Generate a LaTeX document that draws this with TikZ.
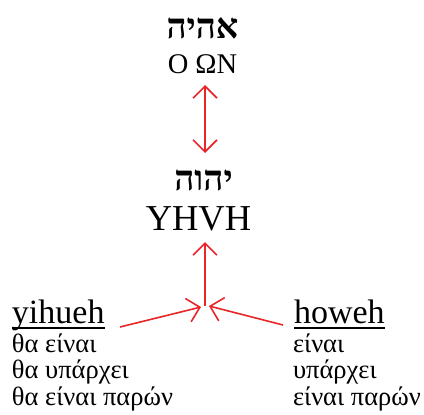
\documentclass[tikz,border=0pt]{standalone}
\usepackage{fontspec}
\setmainfont{Liberation Serif}
\newfontfamily\hebfont[Script=Hebrew]{Liberation Serif}
\TeXXeTstate=1
\usetikzlibrary{arrows.meta}
\definecolor{arrowred}{RGB}{232,38,42}
\tikzset{
  lbl/.style={inner sep=0pt, outer sep=0pt, text=black},
  heb/.style={lbl, anchor=base, font=\hebfont\bfseries\fontsize{35}{35}\selectfont},
  big/.style={lbl, anchor=base, font=\fontsize{36.5}{36.5}\selectfont},
  mid/.style={lbl, anchor=base, font=\fontsize{28.5}{28.5}\selectfont},
  head/.style={lbl, anchor=base west, font=\fontsize{34}{34}\selectfont},
  greek/.style={lbl, anchor=base west, font=\fontsize{26.5}{26.5}\selectfont},
  conn/.style={draw=arrowred, line width=1.6pt, -{Straight Barb[length=12pt,width=24pt,line width=1.6pt]}},
  bconn/.style={conn, {Straight Barb[length=12pt,width=24pt,line width=1.6pt]}-{Straight Barb[length=12pt,width=24pt,line width=1.6pt]}}
}
\begin{document}
\begin{tikzpicture}[x=1pt,y=-1pt]
\useasboundingbox (0,0) rectangle (424,415);
\node[heb] (ehyeh) at (202.5,38) {\beginR אהיה\endR};
\node[mid] (oon) at (202.5,74) {O ΩN};
\node[heb] (yhwh) at (203.5,190) {\beginR יהוה\endR};
\node[big] (yhvh) at (198.5,230) {YHVH};
\node[head] (yihueh) at (12,323) {yihueh};
\node[head] (howeh) at (294,323) {howeh};
\draw[line width=1.8pt] ([yshift=-5pt]yihueh.base west) -- ([yshift=-5pt]yihueh.base east);
\draw[line width=1.8pt] ([yshift=-5pt]howeh.base west) -- ([yshift=-5pt]howeh.base east);
\node[greek] (l1) at (12,352) {θα είναι};
\node[greek] (l2) at (12,378.5) {θα υπάρχει};
\node[greek] (l3) at (12,405) {θα είναι παρών};
\node[greek] (r1) at (293,352) {είναι};
\node[greek] (r2) at (293,378.5) {υπάρχει};
\node[greek] (r3) at (293,405) {είναι παρών};
\coordinate (top1) at (205,85);
\coordinate (bot1) at (205,153);
\coordinate (up) at (205,242);
\coordinate (j) at (205,306);
\coordinate (lt) at (201,307);
\coordinate (rt) at (209,306);
\coordinate (ls) at (120,327);
\coordinate (rs) at (283,325);
\draw[bconn] (top1) -- (bot1);
\draw[conn] (j) -- (up);
\draw[conn] (ls) -- (lt);
\draw[conn] (rs) -- (rt);
\end{tikzpicture}
\end{document}
